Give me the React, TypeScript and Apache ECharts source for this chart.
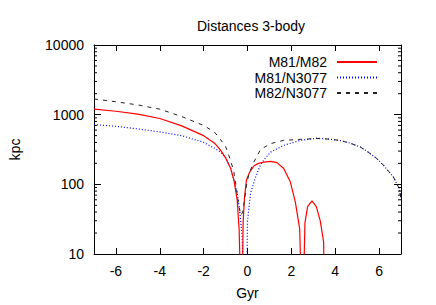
import React, { useEffect, useRef } from 'react';
import * as echarts from 'echarts';

const seriesNames = ['M81/M82', 'M81/N3077', 'M82/N3077'];

const m81m82X = [-7, -6, -5, -4, -3, -2, -1.5, -1.23, -1.0, -0.77, -0.62, -0.47, -0.38, -0.33, -0.3, -0.25, -0.2, -0.14, -0.05, 0.1, 0.3, 0.5, 0.75, 1.05, 1.35, 1.65, 1.95, 2.18, 2.38, 2.47, 2.54, 2.62, 2.74, 2.94, 3.14, 3.32, 3.47, 3.53];
const m81m82Y = [1200, 1120, 1020, 880, 690, 500, 390, 310, 240, 170, 115, 60, 22, 5, 1, 1, 28, 63, 115, 150, 185, 200, 209, 214, 205, 169, 109, 56, 23, 2, 2, 28, 48, 58, 48, 29.6, 15, 1];

const m81n3077X = [-7, -6, -5, -4, -3, -2, -1.5, -1.23, -1.0, -0.77, -0.62, -0.47, -0.35, -0.24, -0.16, -0.06, 0.0, 0.14, 0.36, 0.59, 0.8, 1.05, 1.65, 2.41, 3.17, 3.77, 4.23, 4.68, 5.14, 5.44, 5.9, 6.2, 6.65, 6.92, 7];
const m81n3077Y = [722, 680, 625, 565, 500, 400, 330, 290, 245, 170, 115, 75, 40, 18, 1, 1, 30, 75, 125, 190, 235, 290, 363, 428, 460, 445, 425, 390, 344, 300, 234, 188, 128, 87, 63];

const m82n3077X = [-7, -6, -5, -4, -3, -2, -1.5, -1.23, -1.0, -0.77, -0.62, -0.5, -0.4, -0.3, -0.22, -0.15, -0.05, 0.06, 0.29, 0.59, 1.05, 1.65, 2.41, 3.17, 3.77, 4.23, 4.68, 5.14, 5.44, 5.9, 6.2, 6.65, 6.92, 7];
const m82n3077Y = [1680, 1530, 1380, 1200, 940, 700, 560, 440, 350, 220, 150, 85, 50, 36, 40, 55, 95, 140, 209, 315, 384, 428, 442, 455, 445, 425, 390, 344, 300, 234, 188, 128, 87, 63];

const xMin = -7;
const xMax = 7;
const yMin = 10;
const yMax = 10000;
// minor tick values of the log axis (2..9 in each decade)
const minorTickValues = [20, 30, 40, 50, 60, 70, 80, 90, 200, 300, 400, 500, 600, 700, 800, 900, 2000, 3000, 4000, 5000, 6000, 7000, 8000, 9000];

const pairs = (xs: number[], ys: number[]) => xs.map((x, i) => [x, ys[i]]);

const FONT = 'Liberation Sans';

export default function App() {
  const ref = useRef<HTMLDivElement>(null);
  useEffect(() => {
    const chart = echarts.init(ref.current!, null, { renderer: 'svg' });
    const xLabelFmt = (v: number) => (Math.abs(Math.round(v)) % 2 === 0 ? String(Math.round(v)) : '');
    const baseX = {
      type: 'value' as const,
      min: xMin,
      max: xMax,
      splitNumber: 7,
      splitLine: { show: false },
      axisLine: { show: true, onZero: false, lineStyle: { color: '#000', width: 1 } },
      axisTick: { show: true, inside: true, length: 6, lineStyle: { color: '#000' } },
    };
    const baseY = {
      type: 'log' as const,
      logBase: 10,
      min: yMin,
      max: yMax,
      splitLine: { show: false },
      axisLine: { show: true, onZero: false, lineStyle: { color: '#000', width: 1 } },
      axisTick: { show: true, inside: true, length: 7, lineStyle: { color: '#000' } },
    };
    chart.setOption({
      animation: false,
      backgroundColor: '#fff',
      title: {
        text: 'Distances 3-body',
        left: 246,
        top: 14,
        textAlign: 'center',
        textStyle: { fontFamily: FONT, fontSize: 14, fontWeight: 'normal', color: '#000' },
      },
      legend: {
        orient: 'vertical',
        right: 53,
        top: 50,
        align: 'right',
        itemWidth: 40,
        itemHeight: 14,
        itemGap: 1.5,
        data: seriesNames,
        itemStyle: { opacity: 0 },
        textStyle: { fontFamily: FONT, fontSize: 14, color: '#000', padding: [0, 5, 0, 0] },
      },
      grid: { left: 92, right: 35, top: 45, bottom: 49 },
      xAxis: [
        {
          ...baseX,
          position: 'bottom',
          name: 'Gyr',
          nameLocation: 'middle',
          nameGap: 32,
          nameTextStyle: { fontFamily: FONT, fontSize: 14, color: '#000' },
          axisLabel: { show: true, margin: 10, fontFamily: FONT, fontSize: 14, color: '#000', formatter: xLabelFmt, showMinLabel: false, showMaxLabel: false },
        },
        {
          ...baseX,
          position: 'top',
          axisLabel: { show: false },
        },
      ],
      yAxis: [
        {
          ...baseY,
          position: 'left',
          name: 'kpc',
          nameLocation: 'middle',
          nameGap: 72,
          nameTextStyle: { fontFamily: FONT, fontSize: 14, color: '#000' },
          axisLabel: { show: true, margin: 10, fontFamily: FONT, fontSize: 14, color: '#000', formatter: (v: number) => String(v) },
        },
        {
          ...baseY,
          position: 'right',
          axisLabel: { show: false },
        },
      ],
      series: [
        {
          name: seriesNames[0],
          type: 'line',
          data: pairs(m81m82X, m81m82Y),
          symbol: 'none',
          clip: true,
          color: '#ff0000',
          lineStyle: { color: '#ff0000', width: 1.2, type: 'solid' },
          z: 3,
        },
        {
          name: seriesNames[1],
          type: 'line',
          data: pairs(m81n3077X, m81n3077Y),
          symbol: 'none',
          clip: true,
          color: '#0000ff',
          lineStyle: { color: '#0000ff', width: 1.2, type: [1, 2] },
          z: 2,
        },
        {
          name: seriesNames[2],
          type: 'line',
          data: pairs(m82n3077X, m82n3077Y),
          symbol: 'none',
          clip: true,
          color: '#222',
          lineStyle: { color: '#222', width: 1, type: [4, 5] },
          z: 4,
        },
        {
          name: 'minorTicks',
          type: 'custom',
          data: minorTickValues.map((v) => [xMin, v]),
          encode: { x: 0, y: 1 },
          silent: true,
          clip: false,
          z: 5,
          renderItem: (params: any, api: any) => {
            const v = api.value(1);
            const pl = api.coord([xMin, v]);
            const pr = api.coord([xMax, v]);
            const style = { stroke: '#000', lineWidth: 1 };
            return {
              type: 'group',
              children: [
                { type: 'line', shape: { x1: pl[0], y1: pl[1], x2: pl[0] + 3, y2: pl[1] }, style },
                { type: 'line', shape: { x1: pr[0] - 3, y1: pr[1], x2: pr[0], y2: pr[1] }, style },
              ],
            };
          },
        },
      ],
    });
    return () => chart.dispose();
  }, []);
  return <div ref={ref} style={{ position: 'fixed', left: 0, top: 0, width: 436, height: 305 }} />;
}
